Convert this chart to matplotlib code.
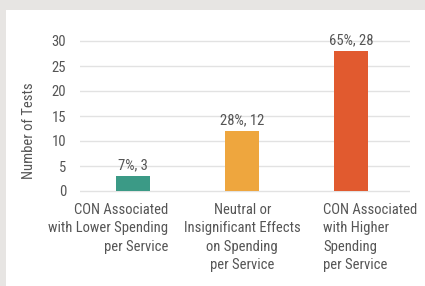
import matplotlib.pyplot as plt
from matplotlib.patches import Rectangle
import matplotlib.transforms as mtransforms

plt.rcParams['font.family'] = ['Roboto Condensed', 'DejaVu Sans']

# donnees
categories = ["CON Associated\nwith Lower Spending\nper Service",
              "Neutral or\nInsignificant Effects\non Spending\nper Service",
              "CON Associated\nwith Higher\nSpending\nper Service"]
counts = [3, 12, 28]
percents = ["7%", "28%", "65%"]
colors = ['#3b9a86', '#eea63e', '#e15a2f']
yticks = [0, 5, 10, 15, 20, 25, 30]

W, H = 425, 286
fig = plt.figure(figsize=(W/100, H/100), dpi=100)
fig.patch.set_facecolor('#e7e5e3')
fig.patches.append(Rectangle((6/W, 0), 1, 1 - 10/H, transform=fig.transFigure,
                             facecolor='white', edgecolor='none', zorder=-5))

ax = fig.add_axes([80/W, (H-193.5)/H, 330/W, 157.5/H])
ax.set_facecolor('none')
x = list(range(len(counts)))
ax.bar(x, counts, width=0.31, color=colors, zorder=3)
ax.set_xlim(-0.49, 2.54)
ax.set_ylim(-0.5, 31)
ax.set_yticks(yticks)
ax.grid(axis='y', color='#e2e2e2', linewidth=1, zorder=0)
for s in ax.spines.values():
    s.set_visible(False)
ax.tick_params(axis='y', length=0, pad=10, labelsize=10.5, labelcolor='#555555')
ax.tick_params(axis='x', length=0, pad=7, labelsize=10.5, labelcolor='#555555')

for xi, c, p in zip(x, counts, percents):
    ax.annotate(f"{p}, {c}", (xi, c), xytext=(0, 2.5), textcoords='offset points',
                ha='center', va='bottom', fontsize=10.5, color='#555555')

ax.set_xticks(x)
ax.set_xticklabels(categories, linespacing=1.38)
aligns = ['right', 'center', 'left']
offsets = [35, 0, -28]
for lab, ha, off in zip(ax.get_xticklabels(), aligns, offsets):
    lab.set_horizontalalignment(ha)
    lab.set_multialignment(ha)
    lab.set_transform(lab.get_transform() + mtransforms.Affine2D().translate(off, 0))

fig.text(29/W, 1 - 131/H, "Number of Tests", rotation=90, ha='center', va='center',
         fontsize=10.5, color='#555555')

fig.savefig('out.png', dpi=100, facecolor=fig.get_facecolor())
